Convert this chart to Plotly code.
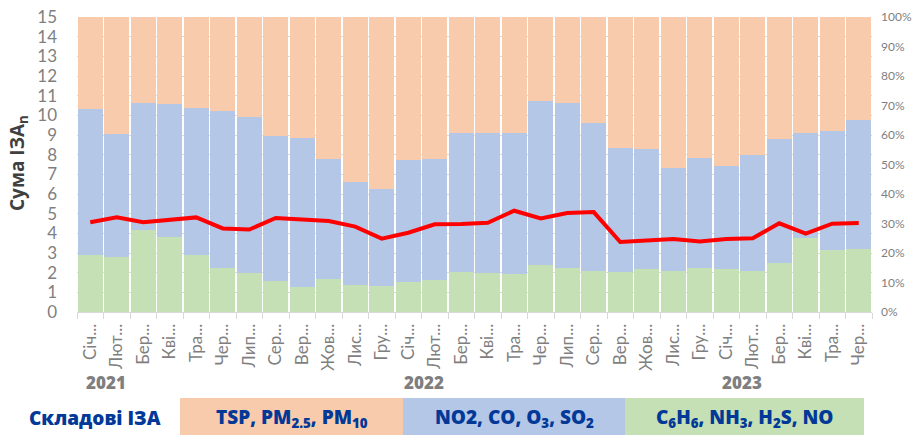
import plotly.graph_objects as go

months = ["Січ...", "Лют...", "Бер...", "Кві...", "Тра...", "Чер...", "Лип...", "Сер...", "Вер...", "Жов...", "Лис...", "Гру...",
          "Січ...", "Лют...", "Бер...", "Кві...", "Тра...", "Чер...", "Лип...", "Сер...", "Вер...", "Жов...", "Лис...", "Гру...",
          "Січ...", "Лют...", "Бер...", "Кві...", "Тра...", "Чер..."]
years = ["2021", "2022", "2023"]
year_start = [0, 12, 24]

green_pct = [19.3, 18.6, 27.8, 25.5, 19.3, 14.8, 13.2, 10.5, 8.4, 11.2, 9.2, 8.7, 10.1, 11.0, 13.6,
             13.1, 12.8, 15.9, 14.9, 13.8, 13.6, 14.7, 14.0, 14.9, 14.5, 13.8, 16.6, 25.2, 21.1, 21.4]
blue_pct = [49.6, 41.7, 42.9, 45.0, 49.7, 53.4, 53.0, 49.3, 50.7, 40.7, 35.0, 33.0, 41.4, 41.0, 47.1,
            47.6, 47.9, 55.5, 55.9, 50.4, 41.9, 40.4, 34.9, 37.4, 35.1, 39.5, 41.9, 35.4, 40.4, 43.8]
orange_pct = [31.1, 39.7, 29.3, 29.5, 31.0, 31.8, 33.8, 40.2, 40.9, 48.1, 55.8, 58.3, 48.5, 48.0, 39.3,
              39.3, 39.3, 28.6, 29.2, 35.8, 44.5, 44.9, 51.1, 47.7, 50.4, 46.7, 41.5, 39.4, 38.5, 34.8]
sum_iza = [4.56, 4.81, 4.56, 4.68, 4.81, 4.25, 4.19, 4.78, 4.68, 4.63, 4.34, 3.73, 4.03, 4.46, 4.47,
           4.54, 5.15, 4.76, 5.03, 5.08, 3.56, 3.61, 3.71, 3.58, 3.71, 3.75, 4.51, 3.98, 4.49, 4.53]
sum_ticks = list(range(0, 16))

legend_labels = ["TSP, PM<sub>2.5</sub>, PM<sub>10</sub>",
                 "NO2, CO, O<sub>3</sub>, SO<sub>2</sub>",
                 "C<sub>6</sub>H<sub>6</sub>, NH<sub>3</sub>, H<sub>2</sub>S, NO"]

C_OR = "#F8CBAD"
C_BL = "#B4C7E7"
C_GR = "#C5E0B4"
DARK_BLUE = "#023897"
GRAY = "#7F7F7F"
GRID = "#D9D9D9"

x = list(range(len(months)))
N = len(months)

fig = go.Figure()
fig.add_trace(go.Bar(x=x, y=green_pct, marker_color=C_GR, yaxis="y", marker_line_width=0))
fig.add_trace(go.Bar(x=x, y=blue_pct, marker_color=C_BL, yaxis="y", marker_line_width=0))
fig.add_trace(go.Bar(x=x, y=orange_pct, marker_color=C_OR, yaxis="y", marker_line_width=0))
fig.add_trace(go.Scatter(x=x, y=sum_iza, mode="lines", line=dict(color="#FF0000", width=4),
                         xaxis="x", yaxis="y2"))
# boundary tick marks on overlay axis
fig.add_trace(go.Scatter(x=[-0.5, N - 0.5], y=[0, 0], mode="lines", line=dict(width=0),
                         xaxis="x2", yaxis="y2", hoverinfo="skip"))

fig.update_layout(
    width=916, height=435,
    margin=dict(l=77, r=44, t=17, b=123),
    barmode="stack", bargap=0.07,
    showlegend=False,
    plot_bgcolor="white", paper_bgcolor="white",
    font=dict(family="Lato", color=GRAY),
    xaxis=dict(range=[-0.5, N - 0.5], tickvals=x, ticktext=months, tickangle=-90, automargin=False,
               ticks="", tickfont=dict(size=17, color=GRAY), showgrid=False, zeroline=False,
               showline=True, linecolor=GRID, linewidth=1, ticklabelstandoff=4),
    xaxis2=dict(overlaying="x", range=[-0.5, N - 0.5], automargin=False,
                tickvals=[i - 0.5 for i in range(N + 1)], showticklabels=False,
                ticks="outside", ticklen=6, tickcolor=GRID, tickwidth=1,
                showgrid=False, zeroline=False, side="bottom", anchor="y2"),
    yaxis=dict(range=[0, 100], dtick=10, ticksuffix="%", side="right", automargin=False,
               tickfont=dict(size=12, color=GRAY), showgrid=False, zeroline=False, ticks="",
               ticklabelstandoff=8,
               minor=dict(tickvals=[v * 100 / 15 for v in sum_ticks], showgrid=True,
                          gridcolor=GRID, gridwidth=1, ticks="")),
    yaxis2=dict(range=[0, 15], tickvals=sum_ticks, overlaying="y", side="left", automargin=False,
                tickfont=dict(size=17, color=GRAY), showgrid=False, zeroline=False, ticks="",
                ticklabelstandoff=19),
)

annotations = []
annotations.append(dict(text="<b>Сума ІЗА<sub>n</sub></b>", textangle=-90, xref="paper", yref="paper",
                        x=(18 - 77) / 795, y=(312 - 163) / 295, xanchor="center", yanchor="middle",
                        showarrow=False, font=dict(size=19, color="#404040", family="Open Sans", weight=800)))
for yr, st in zip(years, year_start):
    annotations.append(dict(text=yr, xref="x", yref="paper", x=st + 0.6, y=(312 - 382) / 295,
                            xanchor="center", yanchor="middle", showarrow=False,
                            font=dict(size=17, color=GRAY, family="Open Sans", weight=800)))

annotations.append(dict(text="Складові ІЗА", xref="paper", yref="paper", x=(95 - 77) / 795,
                        y=(312 - 418) / 295, xanchor="center", yanchor="middle", showarrow=False,
                        font=dict(size=19, color=DARK_BLUE, family="Open Sans", weight=800)))

box_px = [(180, 403), (403, 625), (625, 864)]
box_cols = [C_OR, C_BL, C_GR]
shapes = []
for (x0, x1), col, lab in zip(box_px, box_cols, legend_labels):
    shapes.append(dict(type="rect", xref="paper", yref="paper", x0=(x0 - 77) / 795, x1=(x1 - 77) / 795,
                       y0=(312 - 436) / 295, y1=(312 - 398) / 295, fillcolor=col, line_width=0, layer="below"))
    annotations.append(dict(text=lab, xref="paper", yref="paper",
                            x=((x0 + x1) / 2 - 77) / 795, y=(312 - 418) / 295,
                            xanchor="center", yanchor="middle", showarrow=False,
                            font=dict(size=19, color=DARK_BLUE, family="Open Sans", weight=800)))

fig.update_layout(annotations=annotations, shapes=shapes)
fig.write_html("out.html", config={"displayModeBar": False},
               post_script="document.body.style.margin='0';document.body.style.padding='0';")
